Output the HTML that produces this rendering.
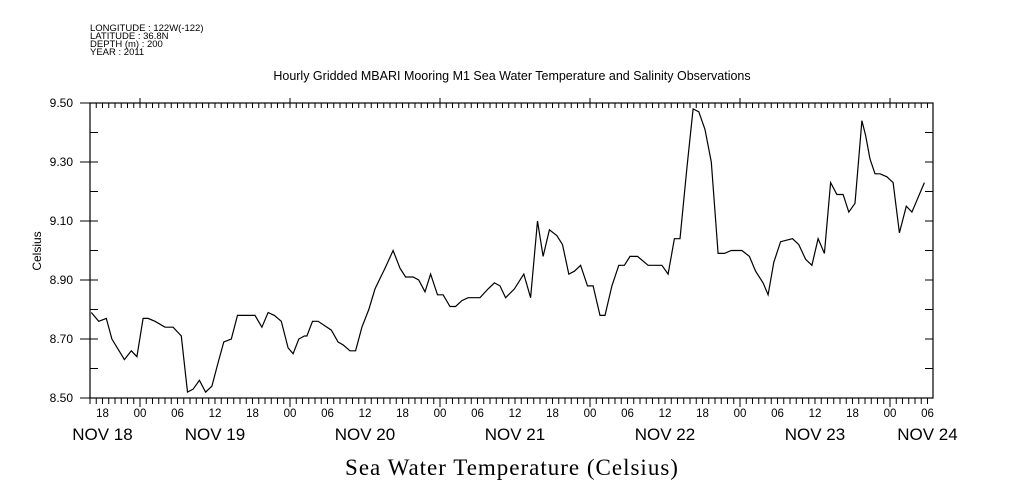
<!DOCTYPE html>
<html><head><meta charset="utf-8"><style>
body{margin:0;background:#fff;}
svg{display:block;font-family:"Liberation Sans",sans-serif;}
</style></head><body>
<svg id="chart" width="1009" height="504" viewBox="0 0 1009 504" xmlns="http://www.w3.org/2000/svg">
<g font-size="9.5" fill="#000">
<text x="90" y="31">LONGITUDE : 122W(-122)</text>
<text x="90" y="39">LATITUDE : 36.8N</text>
<text x="90" y="47">DEPTH (m) : 200</text>
<text x="90" y="55">YEAR : 2011</text>
</g>
<text x="512" y="80" font-size="12.5" text-anchor="middle">Hourly Gridded MBARI Mooring M1 Sea Water Temperature and Salinity Observations</text>
<text transform="translate(41,251) rotate(-90)" font-size="12" text-anchor="middle">Celsius</text>
<text x="512" y="475" font-size="23" letter-spacing="1" font-family="Liberation Serif, serif" text-anchor="middle">Sea Water Temperature (Celsius)</text>
<rect x="90" y="103" width="843" height="295" fill="none" stroke="#000" stroke-width="1.2"/>
<g id="ticks" stroke="#000" stroke-width="1"></g>
<g id="labels" fill="#000"></g>
<path id="line" fill="none" stroke="#000" stroke-width="1.2"/>
</svg>
<script>
// hours since NOV 18 00:00
const hours = [16.2,17.4,18.6,19.5,21.5,22.6,23.5,24.5,25.3,26.4,28,29.3,30.6,31.6,32.5,33.5,34.5,35.5,36.5,37.4,38.6,39.6,40.5,41.3,42.4,43.5,44.5,45.5,46.6,47.7,48.5,49.4,50.3,50.7,51.6,52.5,54.6,55.7,56.5,57.6,58.5,59.5,60.6,61.6,63.2,64.5,65.6,66.5,67.7,68.6,69.6,70.5,71.6,72.5,73.6,74.5,75.5,76.5,78.4,79.7,80.7,81.6,82.5,83.9,85.4,86.5,87.6,88.5,89.5,90.7,91.6,92.6,93.5,94.5,95.6,96.5,97.6,98.4,99.5,100.6,101.5,102.4,103.6,105.3,107.5,108.5,109.5,110.4,111.5,112.5,113.4,114.4,115.4,116.5,117.5,118.6,119.5,120.3,121.5,122.5,123.7,124.5,125.4,126.5,128.4,129.4,130.5,131.5,132.5,133.5,134.5,135.5,136.5,137.4,138.4,139.5,140.1,140.8,141.6,142.4,143.5,144.5,145.5,146.6,147.5,149.5];
const temps = [8.79,8.76,8.77,8.70,8.63,8.66,8.64,8.77,8.77,8.76,8.74,8.74,8.71,8.52,8.53,8.56,8.52,8.54,8.62,8.69,8.70,8.78,8.78,8.78,8.78,8.74,8.79,8.78,8.76,8.67,8.65,8.70,8.71,8.71,8.76,8.76,8.73,8.69,8.68,8.66,8.66,8.74,8.80,8.87,8.94,9.00,8.94,8.91,8.91,8.90,8.86,8.92,8.85,8.85,8.81,8.81,8.83,8.84,8.84,8.87,8.89,8.88,8.84,8.87,8.92,8.84,9.10,8.98,9.07,9.05,9.02,8.92,8.93,8.95,8.88,8.88,8.78,8.78,8.88,8.95,8.95,8.98,8.98,8.95,8.95,8.92,9.04,9.04,9.28,9.48,9.47,9.41,9.30,8.99,8.99,9.00,9.00,9.00,8.98,8.93,8.89,8.85,8.96,9.03,9.04,9.02,8.97,8.95,9.04,8.99,9.23,9.19,9.19,9.13,9.16,9.44,9.39,9.31,9.26,9.26,9.25,9.23,9.06,9.15,9.13,9.23];
const yTickLabels = ["8.50","8.70","8.90","9.10","9.30","9.50"];
const hourLabels = ["18","00","06","12","18","00","06","12","18","00","06","12","18","00","06","12","18","00","06","12","18","00","06"];
const dateLabels = ["NOV 18","NOV 19","NOV 20","NOV 21","NOV 22","NOV 23","NOV 24"];

const X0=90,X1=933,Y0=398,Y1=103,H0=16,HPX=6.25,VMIN=8.5,VMAX=9.5;
const xs=h=>X0+(h-H0)*HPX;
const ys=v=>Y0-(v-VMIN)/(VMAX-VMIN)*(Y0-Y1);
const NS="http://www.w3.org/2000/svg";
const tg=document.getElementById('ticks'), lg=document.getElementById('labels');
function ln(x1,y1,x2,y2){const l=document.createElementNS(NS,'line');l.setAttribute('x1',x1);l.setAttribute('y1',y1);l.setAttribute('x2',x2);l.setAttribute('y2',y2);


tg.appendChild(l);}
function tx(x,y,s,size,anchor,name){const t=document.createElementNS(NS,'text');t.setAttribute('x',x);t.setAttribute('y',y);t.setAttribute('font-size',size);t.setAttribute('text-anchor',anchor);t.textContent=s;


lg.appendChild(t);}
for(let i=0;i<=10;i++){const v=VMIN+i*0.1,y=ys(v);ln(X0,y,X0+8,y);ln(X1,y,X1-8,y);if(i%2===0)ln(X0-10,y,X0,y);}
yTickLabels.forEach(s=>tx(73,ys(parseFloat(s))+4,s,12,'end','y-tick-label'));
for(let h=H0;h<=151;h++){const x=xs(h);if(x>X1)break;const big=h%24===0;ln(x,Y0,x,Y0+(big?9:6));ln(x,Y1,x,Y1+5);if(big)ln(x,Y1,x,Y1-5);}
hourLabels.forEach((s,i)=>tx(xs(18+i*6),417,s,11.5,'middle','x-tick-label'));
dateLabels.forEach((s,i)=>tx(i===0?xs(18):(i===6?xs(150):xs(36+(i-1)*24)),440,s,17,'middle','date-label'));
document.getElementById('line').setAttribute('d',hours.map((h,i)=>(i?'L':'M')+xs(h).toFixed(1)+','+ys(temps[i]).toFixed(1)).join(''));
</script>
</body></html>
